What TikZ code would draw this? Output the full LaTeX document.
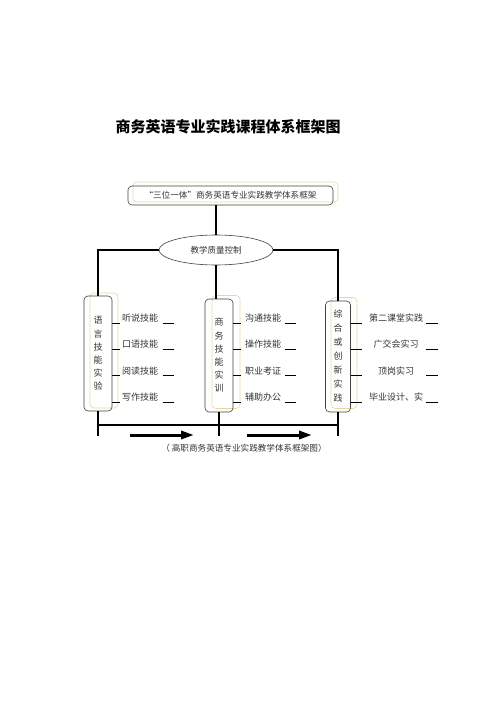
\documentclass[tikz,border=0pt]{standalone}
\usepackage{fontspec}
\newfontfamily\cjk{Noto Sans CJK SC}
\usetikzlibrary{shapes.geometric,arrows.meta}

\definecolor{glowtan}{RGB}{236,214,160}

\begin{document}
\begin{tikzpicture}[x=1pt, y=-1pt,
	frame/.style={draw=black!75, line width=0.6pt, rounded corners=4pt, inner sep=0pt},
	glow/.style={draw=glowtan, line width=0.6pt, rounded corners=4pt, inner sep=0pt},
	colbox/.style={minimum width=28pt, minimum height=114pt, align=center, font=\cjk\fontsize{9}{13.2}\selectfont, text=black!80},
	item/.style={font=\cjk\fontsize{9}{10}\selectfont, text=black!80, inner sep=0pt},
	bar/.style={line width=1.1pt},
	tick/.style={line width=0.8pt},
	push/.style={line width=3pt, -{Triangle[length=13pt,width=8pt]}}]
			\useasboundingbox (0,0) rectangle (500,708);
			% heading
			\node[font=\cjk\bfseries\fontsize{15}{16}\selectfont] (title) at (228,127) {商务英语专业实践课程体系框架图};
			% top frame and quality control
			\node[glow, minimum width=205pt, minimum height=20pt] (topglow) at (235.5,192) {};
			\node[frame, minimum width=205pt, minimum height=19pt, font=\cjk\fontsize{8.6}{10}\selectfont, text=black!80] (top) at (230.5,195.5) {“三位一体”商务英语专业实践教学体系框架};
			\node[draw=black!75, line width=0.6pt, ellipse, minimum width=114pt, minimum height=30pt, inner sep=0pt, font=\cjk\fontsize{8.5}{10}\selectfont, text=black!80] (ctrl) at (216,250) {教学质量控制};
			% three columns
			\node[glow, minimum width=28pt, minimum height=115pt] (langglow) at (104,350.5) {};
			\node[frame, colbox, minimum height=115pt] (lang) at (98,353.5) {语\\言\\技\\能\\实\\验};
			\node[glow, minimum width=28pt, minimum height=113pt] (bizglow) at (226,352) {};
			\node[frame, colbox, minimum height=113pt] (biz) at (219,355.5) {商\\务\\技\\能\\实\\训};
			\node[glow, minimum width=26pt, minimum height=111pt] (pracglow) at (344,353) {};
			\node[frame, colbox, minimum width=25pt, minimum height=111pt, font=\cjk\fontsize{9}{14}\selectfont] (prac) at (338,356.5) {综\\合\\或\\创\\新\\实\\践};
			% connectors
			\draw[bar] (ctrl.north) -- (ctrl.north |- top.south);
			\draw[bar] (ctrl.west) -| (lang.north);
			\draw[bar] (ctrl.east) -| (prac.north);
			\draw[bar] (ctrl.south) -- (ctrl.south |- biz.north);
			\coordinate (rail) at (0,425);
			\coordinate (foot) at (0,436);
			\draw[bar] (lang.south) -- (lang.south |- foot);
			\draw[bar] (biz.south) -- (biz.south |- foot);
			\draw[bar] (prac.south) -- (prac.south |- foot);
			\draw[bar] (lang.south |- rail) -- (prac.south |- rail);
			% items
			\foreach \t [count=\i] in {听说技能,口语技能,阅读技能,写作技能}{
				\pgfmathsetmacro\yy{323+26.3*(\i-1)}
				\draw[tick] (lang.east |- 0,\yy) -- ++(8,0);
				\node[item, anchor=west] (lang\i) at (122,\yy-5) {\t};
				\draw[tick] (163,\yy) -- (174,\yy);
			}
			\foreach \t [count=\i] in {沟通技能,操作技能,职业考证,辅助办公}{
				\pgfmathsetmacro\yy{323+26.3*(\i-1)}
				\draw[tick] (biz.east |- 0,\yy) -- ++(8,0);
				\node[item, anchor=west] (biz\i) at (245,\yy-5) {\t};
				\draw[tick] (285,\yy) -- (296,\yy);
			}
			\foreach \t [count=\i] in {第二课堂实践,广交会实习,顶岗实习,毕业设计、实}{
				\pgfmathsetmacro\yy{323+26.3*(\i-1)}
				\draw[tick] (prac.east |- 0,\yy) -- ++(11,0);
				\node[item] (prac\i) at (396,\yy-5) {\t};
				\draw[tick] (426,\yy) -- (438,\yy);
			}
			% flow arrows and caption
			\coordinate (a1) at (130,435);
			\coordinate (b1) at (194,435);
			\coordinate (a2) at (247,435);
			\coordinate (b2) at (312,435);
			\draw[push] (a1) -- (b1);
			\draw[push] (a2) -- (b2);
			\node[item, font=\cjk\fontsize{8.6}{10}\selectfont] (caption) at (244,448) {（ 高职商务英语专业实践教学体系框架图）};
\end{tikzpicture}
\end{document}
